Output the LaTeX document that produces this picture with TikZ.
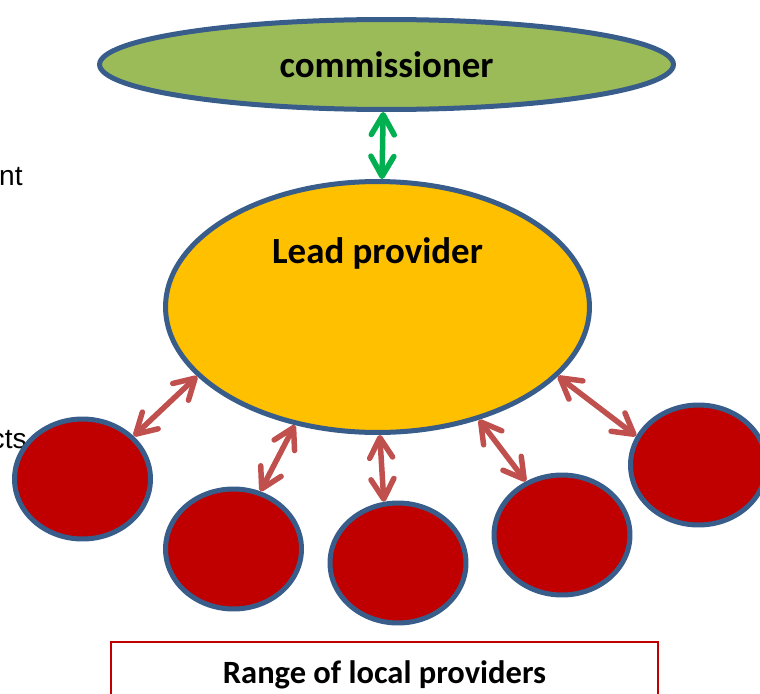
\documentclass[tikz,border=0pt]{standalone}
\usepackage{fontspec}
\setmainfont{Carlito}
\newfontfamily\arialfont{Liberation Sans}
\usepackage{xcolor}
\usetikzlibrary{shapes,arrows.meta,positioning}

\definecolor{rim}{RGB}{56,93,138}
\definecolor{comgreen}{RGB}{155,187,89}
\definecolor{leadgold}{RGB}{255,192,0}
\definecolor{provred}{RGB}{192,0,0}
\definecolor{linkred}{RGB}{192,80,77}
\definecolor{linkgreen}{RGB}{0,176,80}

\begin{document}
\begin{tikzpicture}[x=0.02cm, y=-0.02cm,
	blob/.style={ellipse, draw=rim, line width=0.1cm, inner sep=0pt},
	prov/.style={blob, fill=provred, minimum width=2.72cm, minimum height=2.4cm},
	big/.style={font=\bfseries\fontsize{21}{25}\selectfont},
	cut/.style={font=\arialfont\fontsize{16}{19}\selectfont, anchor=base east, inner sep=0pt},
	>={Straight Barb[length=0.4cm, width=0.46cm, round]},
	link/.style={<->, line width=0.11cm, line cap=round}]
				\useasboundingbox (0,0) rectangle (760,693);
				\node[cut] (nt) at (23,185) {nt};
				\node[cut] (cts) at (27,448) {cts};
				\node[blob, big, fill=comgreen, minimum width=11.48cm, minimum height=1.8cm] (com) at (386.5,64.5) {commissioner};
				\node[blob, fill=leadgold, minimum width=8.48cm, minimum height=5.02cm] (lead) at (377.5,307) {};
				\node[big, anchor=base] (leadtxt) at (377.5,263) {Lead provider};
				\foreach \x/\y [count=\i] in {82.5/479, 233.5/549, 398/563, 562/535, 698.5/465}
					\node[prov] (p\i) at (\x,\y) {};
				\node[draw=provred, line width=0.04cm, minimum width=10.94cm, text height=0.62cm, text depth=0.8cm, inner ysep=0.2cm, anchor=base, font=\bfseries\fontsize{18.5}{22}\selectfont] (range) at (384.5,683) {Range of local providers};
				
				\draw[link, linkgreen] (com.266) -- (lead.88);
				\foreach \a/\i/\b in {201/1/40, 235/2/65, 271/3/103, 312/4/124, 339/5/155}
					\draw[link, linkred] (lead.\a) -- (p\i.\b);
			\end{tikzpicture}
\end{document}
